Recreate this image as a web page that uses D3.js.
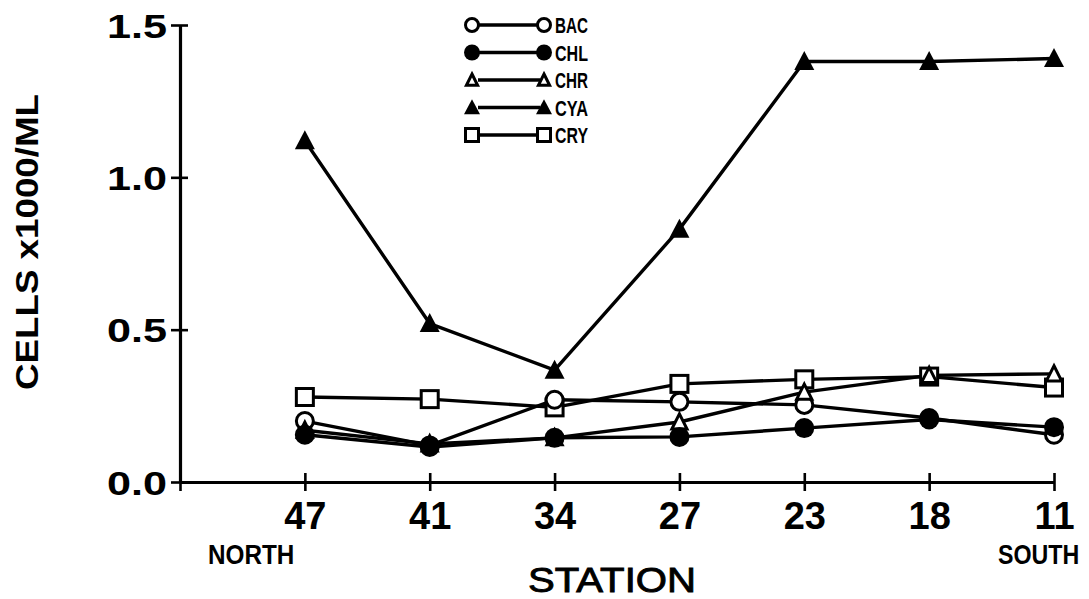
<!DOCTYPE html>
<html><head><meta charset="utf-8">
<script src="https://cdn.jsdelivr.net/npm/d3@7"></script>
<style>
html,body{margin:0;padding:0;background:#fff;}
svg{display:block;}
text{font-family:"Liberation Sans",Arial,sans-serif;fill:#000;}
</style></head>
<body>
<svg id="chart" width="1089" height="599"></svg>
<script>
const stations = ["47","41","34","27","23","18","11"];
const yTicks = [0.0, 0.5, 1.0, 1.5];
const BAC = [0.20, 0.12, 0.27, 0.263, 0.253, 0.21, 0.155];
const CHL = [0.155, 0.115, 0.145, 0.148, 0.177, 0.205, 0.18];
const CHR = [0.17, 0.125, 0.145, 0.197, 0.295, 0.35, 0.355];
const CYA = [1.12, 0.52, 0.367, 0.83, 1.38, 1.38, 1.39];
const CRY = [0.279, 0.272, 0.245, 0.322, 0.337, 0.346, 0.31];
const seriesNames = ["BAC","CHL","CHR","CYA","CRY"];

const series = [
  {name:"CRY", values:CRY, shape:"square", filled:false},
  {name:"BAC", values:BAC, shape:"circle", filled:false},
  {name:"CHR", values:CHR, shape:"triangle", filled:false},
  {name:"CHL", values:CHL, shape:"circle", filled:true},
  {name:"CYA", values:CYA, shape:"triangle", filled:true}
];

const svg = d3.select("#chart");
const x = d3.scaleLinear().domain([0, stations.length]).range([180, 1054]);
const y = d3.scaleLinear().domain([0, 1.5]).range([482, 25]);
const xi = i => x(i + 1);

// Y axis
const yAxis = d3.axisLeft(y).tickValues(yTicks).tickFormat(d3.format(".1f")).tickSize(0);
const gy = svg.append("g").attr("transform","translate(180,0)").call(yAxis);
gy.select(".domain").attr("stroke","#000").attr("stroke-width",3.2);
gy.selectAll(".tick line").attr("x1",-9).attr("x2",8).attr("stroke","#000").attr("stroke-width",2.6);
gy.selectAll(".tick text").attr("x",-13).attr("dy","0.36em")
  .style("font-size","34px").style("font-weight","bold").attr("text-anchor","end")
  .attr("textLength",60).attr("lengthAdjust","spacingAndGlyphs");

// X axis
const xAxis = d3.axisBottom(x).tickValues(d3.range(0, stations.length + 1))
  .tickFormat(i => i === 0 ? "" : stations[i - 1]).tickSize(0);
const gx = svg.append("g").attr("transform","translate(0,482)").call(xAxis);
gx.select(".domain").attr("stroke","#000").attr("stroke-width",3.2);
gx.selectAll(".tick line").attr("y1",-9).attr("y2",9).attr("stroke","#000").attr("stroke-width",2.6);
gx.selectAll(".tick text").attr("y",47).attr("dy",0)
  .style("font-size","38px").style("font-weight","bold");

// Axis titles
svg.append("text").attr("transform","translate(38,242) rotate(-90)")
  .attr("text-anchor","middle").style("font-size","31px").style("font-weight","bold")
  .attr("textLength",296).attr("lengthAdjust","spacingAndGlyphs").text("CELLS x1000/ML");
svg.append("text").attr("x",612).attr("y",592).attr("text-anchor","middle")
  .style("font-size","35px").attr("stroke","#000").attr("stroke-width",0.9)
  .attr("textLength",168).attr("lengthAdjust","spacingAndGlyphs").text("STATION");
svg.append("text").attr("transform","translate(208,564) scale(0.9,1)")
  .style("font-size","27px").style("font-weight","bold").text("NORTH");
svg.append("text").attr("transform","translate(998,564) scale(0.86,1)")
  .style("font-size","27px").style("font-weight","bold").text("SOUTH");

// marker drawing
function marker(g, shape, filled, size) {
  const sw = size > 14 ? 3 : 2.6;
  if (shape === "circle") {
    g.append("circle").attr("r", filled ? size/2 : size/2 - sw/2)
      .attr("fill", filled ? "#000" : "#fff").attr("stroke","#000").attr("stroke-width", filled ? 0 : sw);
  } else if (shape === "square") {
    const s = size - sw;
    g.append("rect").attr("x",-s/2).attr("y",-s/2).attr("width",s).attr("height",s)
      .attr("fill","#fff").attr("stroke","#000").attr("stroke-width",sw);
  } else {
    const h = size * 0.95, w = size;
    const pts = filled
      ? [[0,-h*0.55],[w/2,h*0.45],[-w/2,h*0.45]]
      : [[0,-h*0.55 + sw*0.8],[w/2 - sw*0.8,h*0.45 - sw/2],[-w/2 + sw*0.8,h*0.45 - sw/2]];
    g.append("path").attr("d","M" + pts.map(p=>p.join(",")).join("L") + "Z")
      .attr("fill", filled ? "#000" : "#fff").attr("stroke","#000")
      .attr("stroke-width", filled ? 0 : sw).attr("stroke-linejoin","miter");
  }
}

// lines
const line = d3.line().x((d,i)=>xi(i)).y(d=>y(d));
const linesG = svg.append("g");
series.forEach(s => {
  linesG.append("path").datum(s.values).attr("d", line)
    .attr("fill","none").attr("stroke","#000").attr("stroke-width",3.4).attr("stroke-linejoin","round");
});
// markers
series.forEach(s => {
  const g = svg.append("g");
  s.values.forEach((v,i) => {
    const m = g.append("g").attr("transform",`translate(${xi(i)},${y(v)})`);
    marker(m, s.shape, s.filled, 20);
  });
});

// legend
const legendInfo = {
  BAC:{shape:"circle",filled:false}, CHL:{shape:"circle",filled:true},
  CHR:{shape:"triangle",filled:false}, CYA:{shape:"triangle",filled:true},
  CRY:{shape:"square",filled:false}
};
const leg = svg.append("g");
seriesNames.forEach((n,i) => {
  const yy = 25 + i * 27.5;
  const info = legendInfo[n];
  leg.append("line").attr("x1",478).attr("x2",540).attr("y1",yy).attr("y2",yy)
    .attr("stroke","#000").attr("stroke-width",3.6);
  marker(leg.append("g").attr("transform",`translate(472,${yy})`), info.shape, info.filled, 16);
  marker(leg.append("g").attr("transform",`translate(544,${yy})`), info.shape, info.filled, 16);
  leg.append("text").attr("x",555).attr("y",yy + 8)
    .style("font-size","22px").style("font-weight","bold")
    .attr("textLength",33).attr("lengthAdjust","spacingAndGlyphs").text(n);
});
</script>
</body></html>
